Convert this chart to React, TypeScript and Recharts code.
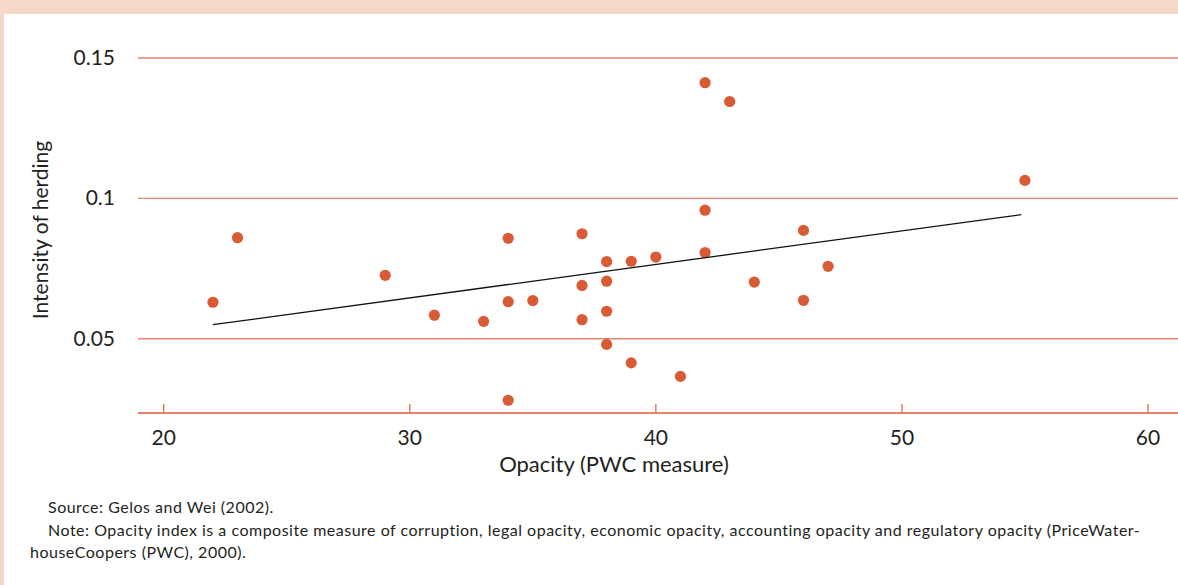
import React from 'react';
import { ScatterChart, Scatter, XAxis, YAxis, CartesianGrid } from 'recharts';

// opacity (PWC measure) and intensity of herding, one entry per country
const opacity = [22, 23, 29, 31, 33, 34, 34, 34, 35, 37, 37, 37, 38, 38, 38, 38, 39, 39, 40, 41, 42, 42, 42, 43, 44, 46, 46, 47, 55];
const herding = [0.063, 0.086, 0.0726, 0.0584, 0.0562, 0.0858, 0.0632, 0.0281, 0.0636, 0.0874, 0.069, 0.0568, 0.0775, 0.0705, 0.0598, 0.048, 0.0776, 0.0414, 0.0791, 0.0366, 0.1412, 0.0958, 0.0807, 0.1345, 0.0702, 0.0886, 0.0637, 0.0758, 0.1064];

// fitted line end points
const trendX = [22, 54.85];
const trendY = [0.055, 0.0942];

const xTicks = [20, 30, 40, 50, 60];
const yTicks = [0.05, 0.1, 0.15];

const points = opacity.map((x, i) => ({ x, y: herding[i] }));
const trend = trendX.map((x, i) => ({ x, y: trendY[i] }));

const FONT = 'Lato, "Open Sans", sans-serif';
const PEACH = '#f6d8c9';
const GRID = '#e48670';
const AXIS = '#e8765a';
const DOT = '#d95b36';
const INK = '#231f20';

const Dot = (props: any) => <circle cx={props.cx} cy={props.cy} r={5.6} fill={DOT} />;

const XTick = (props: any) => {
  const { x, y, payload } = props;
  return (
    <g>
      <line x1={x} x2={x} y1={y - 9} y2={y} stroke={AXIS} strokeWidth={1.4} />
      <text x={x} y={y + 32} textAnchor="middle" fontFamily={FONT} fontSize={21} fill={INK}>
        {payload.value}
      </text>
    </g>
  );
};

const YTick = (props: any) => {
  const { x, y, payload } = props;
  return (
    <text x={x} y={y + 7} textAnchor="end" fontFamily={FONT} fontSize={21} fill={INK}>
      {payload.value}
    </text>
  );
};

const noteStyle: React.CSSProperties = {
  position: 'absolute',
  fontFamily: FONT,
  fontSize: 16,
  letterSpacing: 0.5,
  lineHeight: '22px',
  color: INK,
  whiteSpace: 'nowrap',
};

const App: React.FC = () => {
  return (
    <div style={{ position: 'relative', width: 1178, height: 585, background: PEACH, overflow: 'hidden' }}>
      <style>{'body{margin:0}'}</style>
      <div style={{ position: 'absolute', left: 4, top: 14, right: 0, bottom: 0, background: '#fff' }} />
      <div style={{ position: 'absolute', left: 0, top: 0 }}>
        <ScatterChart width={1178} height={480} margin={{ top: 58, right: 0, bottom: 0, left: 0 }}>
          <CartesianGrid vertical={false} stroke={GRID} strokeWidth={1.3} />
          <XAxis
            type="number"
            dataKey="x"
            domain={[18.955, 61.22]}
            ticks={xTicks}
            allowDataOverflow
            height={67}
            tickSize={0}
            tickMargin={0}
            axisLine={{ stroke: AXIS, strokeWidth: 1.4 }}
            tickLine={false}
            tick={<XTick />}
            label={{
              content: () => (
                <text x={614} y={472} textAnchor="middle" fontFamily={FONT} fontSize={22} fill={INK}>
                  Opacity (PWC measure)
                </text>
              ),
            }}
          />
          <YAxis
            type="number"
            dataKey="y"
            domain={[0.02356, 0.15]}
            ticks={yTicks}
            allowDataOverflow
            width={138}
            tickSize={0}
            tickMargin={23}
            axisLine={false}
            tickLine={false}
            tick={<YTick />}
            label={{
              content: () => (
                <text
                  x={48}
                  y={230}
                  transform="rotate(-90 48 230)"
                  textAnchor="middle"
                  fontFamily={FONT}
                  fontSize={21}
                  fill={INK}
                >
                  Intensity of herding
                </text>
              ),
            }}
          />
          <Scatter data={points} shape={<Dot />} isAnimationActive={false} />
          <Scatter
            data={trend}
            line={{ stroke: '#111', strokeWidth: 1.3 }}
            shape={() => <g />}
            isAnimationActive={false}
          />
        </ScatterChart>
      </div>
      <div style={{ ...noteStyle, left: 48, top: 496 }}>Source: Gelos and Wei (2002).</div>
      <div style={{ ...noteStyle, left: 30, top: 519 }}>
        <div style={{ paddingLeft: 18 }}>
          Note: Opacity index is a composite measure of corruption, legal opacity, economic opacity, accounting opacity and regulatory opacity (PriceWater-
        </div>
        <div>houseCoopers (PWC), 2000).</div>
      </div>
    </div>
  );
};

export default App;
